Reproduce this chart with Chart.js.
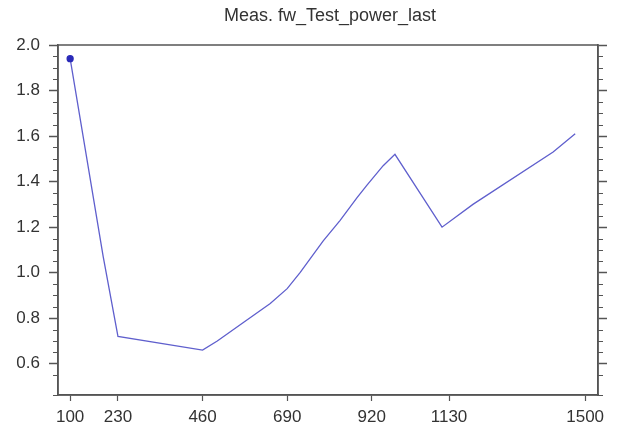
<!DOCTYPE html>
<html>
<head>
<meta charset="utf-8">
<script src="https://cdn.jsdelivr.net/npm/chart.js@4/dist/chart.umd.min.js"></script>
<style>
  html, body { margin: 0; padding: 0; background: #fff; }
  #wrap { width: 617px; height: 425px; }
</style>
</head>
<body>
<div id="wrap"><canvas id="chart" width="617" height="425"></canvas></div>
<script>
// Data
const xValues = [100, 190, 230, 460, 500, 570, 644, 690, 725, 788, 834, 880, 907, 951, 983, 1111, 1195, 1413, 1473];
const yValues = [1.94, 1.07, 0.72, 0.66, 0.70, 0.78, 0.865, 0.93, 1.0, 1.14, 1.23, 1.33, 1.385, 1.47, 1.52, 1.20, 1.30, 1.53, 1.61];
const xTickValues = [100, 230, 460, 690, 920, 1130, 1500];
const titleText = 'Meas. fw_Test_power_last';

const axisColor = '#555';
const textColor = '#333';
const fontFamily = 'Liberation Sans';

const isMajor = v => Math.abs(v * 5 - Math.round(v * 5)) < 1e-6;

// box round the plot area, short minor ticks, title a bit right of centre
const decor = {
    id: 'decor',
    afterDraw(chart) {
        const a = chart.chartArea;
        const ctx = chart.ctx;
        ctx.save();
        ctx.strokeStyle = axisColor;
        ctx.lineWidth = 1.5;
        ctx.strokeRect(a.left, a.top, a.right - a.left, a.bottom - a.top);

        ctx.lineWidth = 1;
        ['y', 'y2'].forEach(id => {
            const s = chart.scales[id];
            s.ticks.forEach(t => {
                if (isMajor(t.value)) return;
                const py = Math.round(s.getPixelForValue(t.value)) + 0.5;
                ctx.beginPath();
                if (id === 'y') { ctx.moveTo(a.left - 5, py); ctx.lineTo(a.left, py); }
                else { ctx.moveTo(a.right, py); ctx.lineTo(a.right + 5, py); }
                ctx.stroke();
            });
        });

        ctx.fillStyle = textColor;
        ctx.font = '18px "' + fontFamily + '"';
        ctx.textAlign = 'center';
        ctx.textBaseline = 'middle';
        ctx.fillText(titleText, 330, 16);
        ctx.restore();
    }
};

const ctx = document.getElementById('chart').getContext('2d');
const chart = new Chart(ctx, {
    type: 'line',
    data: {
        datasets: [{
            data: xValues.map((x, i) => ({ x: x, y: yValues[i] })),
            borderColor: 'rgb(95, 95, 205)',
            borderWidth: 1.3,
            pointRadius: c => c.dataIndex === 0 ? 3 : 0,
            pointBackgroundColor: '#2a2ab8',
            pointBorderColor: '#2a2ab8',
            tension: 0,
            fill: false
        }]
    },
    options: {
        responsive: false,
        animation: false,
        layout: { padding: { top: 45 } },
        plugins: {
            legend: { display: false },
            tooltip: { enabled: false },
            title: { display: false }
        },
        scales: {
            x: {
                type: 'linear',
                min: 67,
                max: 1535,
                afterBuildTicks: s => { s.ticks = xTickValues.map(v => ({ value: v })); },
                afterFit: s => { s.height = 30; },
                grid: { drawOnChartArea: false, tickLength: 6, tickColor: axisColor, tickWidth: 1.2 },
                border: { color: axisColor, width: 1.5 },
                ticks: {
                    autoSkip: false,
                    maxRotation: 0,
                    padding: 6,
                    color: textColor,
                    font: { family: fontFamily, size: 17 },
                    callback: v => String(v)
                }
            },
            y: {
                min: 0.463,
                max: 2.0,
                afterFit: s => { s.width = 58; },
                grid: {
                    drawOnChartArea: false,
                    tickLength: 9,
                    tickWidth: 1.5,
                    tickColor: c => isMajor(c.tick.value) ? axisColor : 'rgba(0,0,0,0)'
                },
                border: { color: axisColor, width: 1.5 },
                ticks: {
                    stepSize: 0.05,
                    autoSkip: false,
                    padding: 9,
                    color: textColor,
                    font: { family: fontFamily, size: 17 },
                    callback: v => isMajor(v) ? v.toFixed(1) : ''
                }
            },
            y2: {
                position: 'right',
                min: 0.463,
                max: 2.0,
                afterFit: s => { s.width = 19; },
                grid: {
                    drawOnChartArea: false,
                    tickLength: 9,
                    tickWidth: 1.5,
                    tickColor: c => isMajor(c.tick.value) ? axisColor : 'rgba(0,0,0,0)'
                },
                border: { color: axisColor, width: 1.5 },
                ticks: {
                    stepSize: 0.05,
                    autoSkip: false,
                    callback: () => ''
                }
            }
        }
    },
    plugins: [decor]
});
</script>
</body>
</html>
